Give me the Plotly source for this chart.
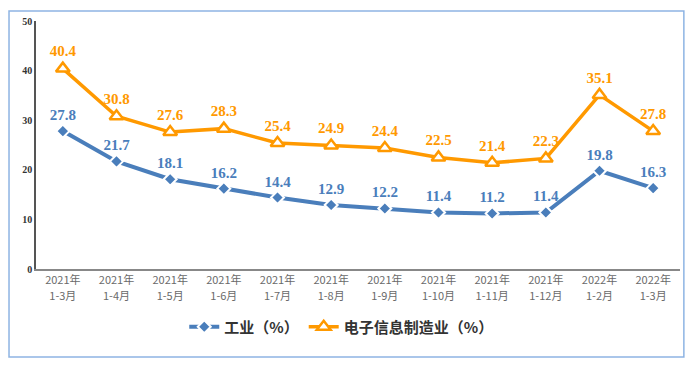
import plotly.graph_objects as go

years = ["2021年"] * 10 + ["2022年"] * 2
periods = ["1-3月", "1-4月", "1-5月", "1-6月", "1-7月", "1-8月", "1-9月", "1-10月",
           "1-11月", "1-12月", "1-2月", "1-3月"]
categories = [y + p for y, p in zip(years, periods)]
industry = [27.8, 21.7, 18.1, 16.2, 14.4, 12.9, 12.2, 11.4, 11.2, 11.4, 19.8, 16.3]
electronics = [40.4, 30.8, 27.6, 28.3, 25.4, 24.9, 24.4, 22.5, 21.4, 22.3, 35.1, 27.8]
y_ticks = [0, 10, 20, 30, 40, 50]

BLUE = "#4a7ebb"
ORANGE = "#ff9900"
serif = "Liberation Serif, Times New Roman, serif"
tickfont = dict(family="Noto Sans CJK SC", size=11, color="#6a6a6a")

fig = go.Figure()
fig.add_trace(go.Scatter(
    x=categories, y=industry, name="工业（%）", mode="lines+markers+text",
    line=dict(color=BLUE, width=4),
    marker=dict(symbol="diamond", size=10, color=BLUE, line=dict(color="white", width=2)),
    text=[f"{v:.1f}" for v in industry], textposition="top center",
    textfont=dict(family=serif, size=15, color=BLUE, weight="bold"),
    cliponaxis=False,
))
fig.add_trace(go.Scatter(
    x=categories, y=electronics, name="电子信息制造业（%）", mode="lines+markers+text",
    line=dict(color=ORANGE, width=3.5),
    marker=dict(symbol="triangle-up", size=12, color="white", line=dict(color=ORANGE, width=2.5)),
    text=[f"{v:.1f}" for v in electronics], textposition="top center",
    textfont=dict(family=serif, size=15, color=ORANGE, weight="bold"),
    cliponaxis=False,
))
# carrier trace for the second line of category labels
fig.add_trace(go.Scatter(
    x=categories, y=[None] * len(categories), xaxis="x2", mode="markers",
    showlegend=False, hoverinfo="skip",
))

fig.update_layout(
    width=686, height=358,
    margin=dict(l=28, r=14, t=13, b=97),
    paper_bgcolor="white", plot_bgcolor="white",
    showlegend=True,
    legend=dict(orientation="h", x=0.474, xanchor="center", y=-0.234, yanchor="middle",
                font=dict(family="Noto Sans CJK SC", size=15, color="#333333", weight="bold"),
                itemwidth=30),
    xaxis=dict(type="category", categoryorder="array", categoryarray=categories,
               tickvals=categories, ticktext=years,
               showgrid=False, showline=True, linecolor="#888888", linewidth=2,
               ticks="", tickfont=tickfont, range=[-0.5, 11.5], automargin=False),
    xaxis2=dict(type="category", categoryorder="array", categoryarray=categories,
                tickvals=categories, ticktext=periods,
                overlaying="x", matches="x", anchor="y", side="bottom",
                showgrid=False, showline=False, zeroline=False, ticks="",
                tickfont=tickfont, ticklabelstandoff=19, automargin=False),
    yaxis=dict(range=[0, 50], tickvals=y_ticks, showgrid=False, zeroline=False,
               showline=True, linecolor="#555555", linewidth=1.5, ticks="",
               tickfont=dict(family=serif, size=10, color="#333333", weight="bold"),
               automargin=False),
    shapes=[dict(type="rect", xref="paper", yref="paper",
                 x0=-0.0419, x1=1.006, y0=-0.355, y1=1.040,
                 line=dict(color="#8eb4e3", width=1.5), fillcolor="rgba(0,0,0,0)", layer="below")],
)

fig.write_html("out.html")
